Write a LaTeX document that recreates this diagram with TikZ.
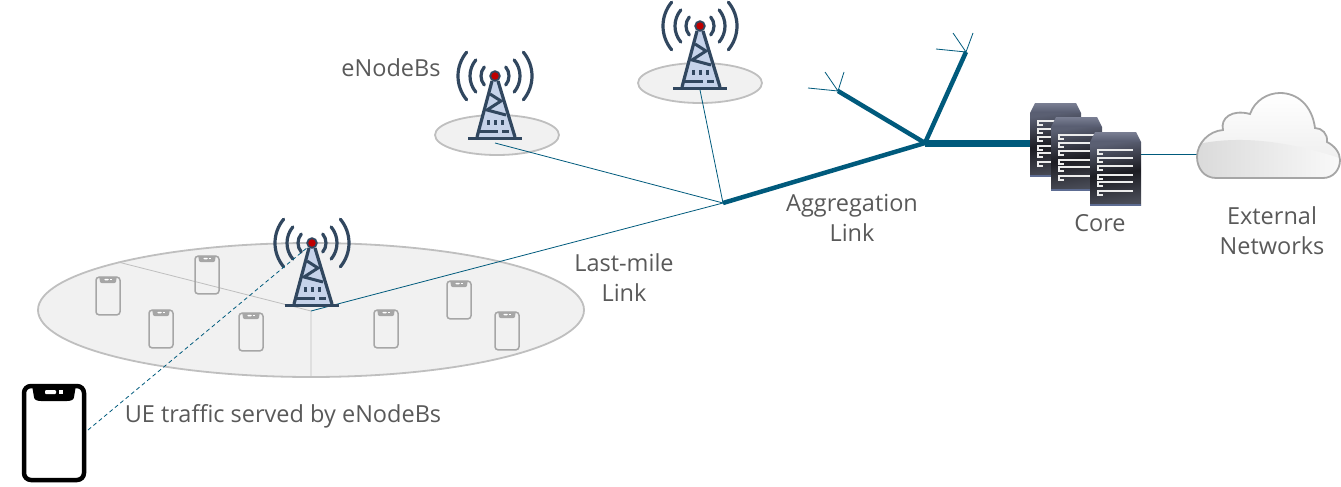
\documentclass[tikz,border=0pt]{standalone}
\usepackage{fontspec}
\setmainfont{Open Sans}

\definecolor{linkteal}{HTML}{005A7C}
\definecolor{towerdark}{HTML}{31475F}
\definecolor{towerlight}{HTML}{C6D3EA}
\definecolor{textgray}{HTML}{595959}
\definecolor{cellgray}{HTML}{F1F1F1}
\definecolor{celledge}{HTML}{BFBFBF}
\definecolor{rackhigh}{HTML}{7A7F93}
\definecolor{racklow}{HTML}{555A6E}
\definecolor{rackbody}{HTML}{5A5F72}
\definecolor{rackfoot}{HTML}{4A4D58}
\definecolor{rackmid}{HTML}{1C1C22}
\definecolor{rackedge}{HTML}{5D6C92}

\tikzset{
  thinlink/.style={draw=linkteal, line width=0.8},
  thicklink/.style={draw=linkteal, line width=4.5},
  caption/.style={text=textgray, align=center, font=\fontsize{23.5}{30}\selectfont},
  cell/.style={draw=celledge, fill=cellgray, line width=1.8},
  pics/tower/.style={code={
    % waves
    \foreach \r in {14,25,37}{
      \draw[towerdark, line width=3.2, line cap=round] (140:\r) arc[start angle=140,end angle=220,radius=\r];
      \draw[towerdark, line width=3.2, line cap=round] (40:\r) arc[start angle=40,end angle=-40,radius=\r];
    }
    % mast
    \fill[towerlight] (-3,5) -- (-18,61) -- (20,61) -- (3,5) -- cycle;
    \draw[towerdark, line width=3.2, line join=round] (-3,5) -- (-18,61) (3,5) -- (20,61);
    \draw[towerdark, line width=3] (-5,18) -- (6,25) -- (-8,34) -- (11,39);
    \draw[towerdark, line width=3] (-27,62) -- (27,62);
    % vents
    \foreach \dx in {-7,0,7}
      \draw[towerdark, line width=3] (\dx,44) -- (\dx,49);
    \draw[towerdark, line width=2.6] (-15,55.5) -- (3,55.5) (7,55.5) -- (14,55.5);
    % beacon
    \fill[red!75!black, draw=towerdark, line width=1.8] (0,0) circle (4.8);
  }},
  pics/handset/.style n args={2}{code={
    \draw[#1, rounded corners=#2] (-30,-47) rectangle (30,47);
    \fill[#1] (-22,-48) -- (22,-48) -- (20,-36) to[out=-90,in=0] (13,-32) -- (-13,-32) to[out=180,in=-90] (-20,-36) -- cycle;
    \fill[white, rounded corners=1] (-9,-43) rectangle (2,-39);
    \fill[white] (5,-43) rectangle (9,-39);
  }},
  pics/server/.style={code={
    \shade[top color=rackhigh, bottom color=racklow] (5,0) -- (46,0) -- (51,10) -- (0,10) -- cycle;
    \shade[top color=rackbody, bottom color=rackfoot, middle color=rackmid, shading angle=8] (0,10) rectangle (51,73);
    \fill[rackedge] (0,71.5) rectangle (51,74);
    \foreach \y in {18,26,34,43,50,59}{
      \draw[white!85!gray, line width=1.4] (43,\y) -- (8,\y) -- (8,\y+4) -- (13,\y+4);
    }
  }},
}

\begin{document}
\begin{tikzpicture}[x=1pt, y=-1pt]
  \useasboundingbox (0,0) rectangle (1341,487);

  % cells
  \draw[cell] (311,310) ellipse[x radius=273, y radius=67];
  \draw[cell] (497,135) ellipse[x radius=62, y radius=20];
  \draw[cell] (700,83) ellipse[x radius=62, y radius=20];

  % sectors
  \coordinate (sector) at (311,311);
  \coordinate (sectorA) at (118,262);
  \coordinate (sectorB) at (311,377);
  \draw[celledge, line width=0.8] (sectorA) -- (sector) -- (sectorB);

  % phones in the cell
  \foreach \x/\y in {108/296, 207/275, 161/329, 251/332, 386/329, 459/300, 507/331}
    \pic[scale=0.4, line width=1.5] at (\x,\y) {handset={black!35}{3}};

  % junctions
  \coordinate (towerA) at (312,243);
  \coordinate (towerB) at (495,76);
  \coordinate (towerC) at (700,26);
  \coordinate (footB) at (495,143);
  \coordinate (footC) at (700,90);
  \coordinate (edgeHub) at (723,203);
  \coordinate (coreHub) at (925,143);
  \coordinate (coreIn) at (1035,143);
  \coordinate (mastA) at (838,91);
  \coordinate (mastB) at (966,52);
  \coordinate (coreOut) at (1141,154);
  \coordinate (cloudIn) at (1197,154);
  \coordinate (ueEnd) at (88,430);
  \coordinate (ueTop) at (308,247);

  % links
  \draw[thinlink] (sector) -- (edgeHub);
  \draw[thinlink] (footB) -- (edgeHub);
  \draw[thinlink] (footC) -- (edgeHub);
  \draw[thicklink] (edgeHub) -- (coreHub);
  \draw[thicklink] (coreHub) -- (mastA);
  \draw[thicklink] (coreHub) -- (mastB);
  \draw[draw=linkteal, line width=7] (coreHub) -- (coreIn);
  \draw[thinlink] (coreOut) -- (cloudIn);

  % antennas
  \draw[thinlink] (mastA) -- ++(-30,-3) (mastA) -- ++(-13,-19) (mastA) -- ++(6,-19);
  \draw[thinlink] (mastB) -- ++(-30,-3) (mastB) -- ++(-13,-19) (mastB) -- ++(7,-19);

  % towers
  \pic at (towerA) {tower};
  \pic at (towerB) {tower};
  \pic at (towerC) {tower};
  \draw[thinlink, dash pattern=on 4 off 3] (ueEnd) -- (ueTop);

  % core
  \pic at (1030,103) {server};
  \pic at (1051,117) {server};
  \pic at (1090,132) {server};

  % cloud
  \def\cloudpath{(1216,178) .. controls (1204,178) and (1197,168) .. (1197,157)
    .. controls (1197,143) and (1209,131) .. (1223,130)
    .. controls (1220,118) and (1232,109) .. (1250,114)
    .. controls (1255,100) and (1268,93) .. (1280,93)
    .. controls (1297,93) and (1312,105) .. (1315,128)
    .. controls (1322,128) and (1328,134) .. (1327,142)
    .. controls (1335,146) and (1340,153) .. (1340,160)
    .. controls (1340,170) and (1333,178) .. (1323,178) -- cycle}
  \shade[top color=white, bottom color=black!8] \cloudpath;
  \begin{scope}
    \clip \cloudpath;
    \shade[left color=black!15, right color=black!2] (1190,146) .. controls (1220,138) and (1270,134) .. (1345,160) -- (1345,185) -- (1190,185) -- cycle;
  \end{scope}
  \draw[black!35, line width=1.8] \cloudpath;

  % big phone
  \pic[line width=4.5, line join=round] at (54,433) {handset={black}{7}};

  % labels
  \node[caption] (enb) at (391,68) {eNodeBs};
  \node[caption] (agg) at (852,218) {Aggregation\\Link};
  \node[caption] (last) at (624,278) {Last-mile\\Link};
  \node[caption] (core) at (1100,223) {Core};
  \node[caption] (ext) at (1272,231) {External\\Networks};
  \node[caption] (ue) at (283,416) {UE traffic served by eNodeBs};
\end{tikzpicture}
\end{document}
